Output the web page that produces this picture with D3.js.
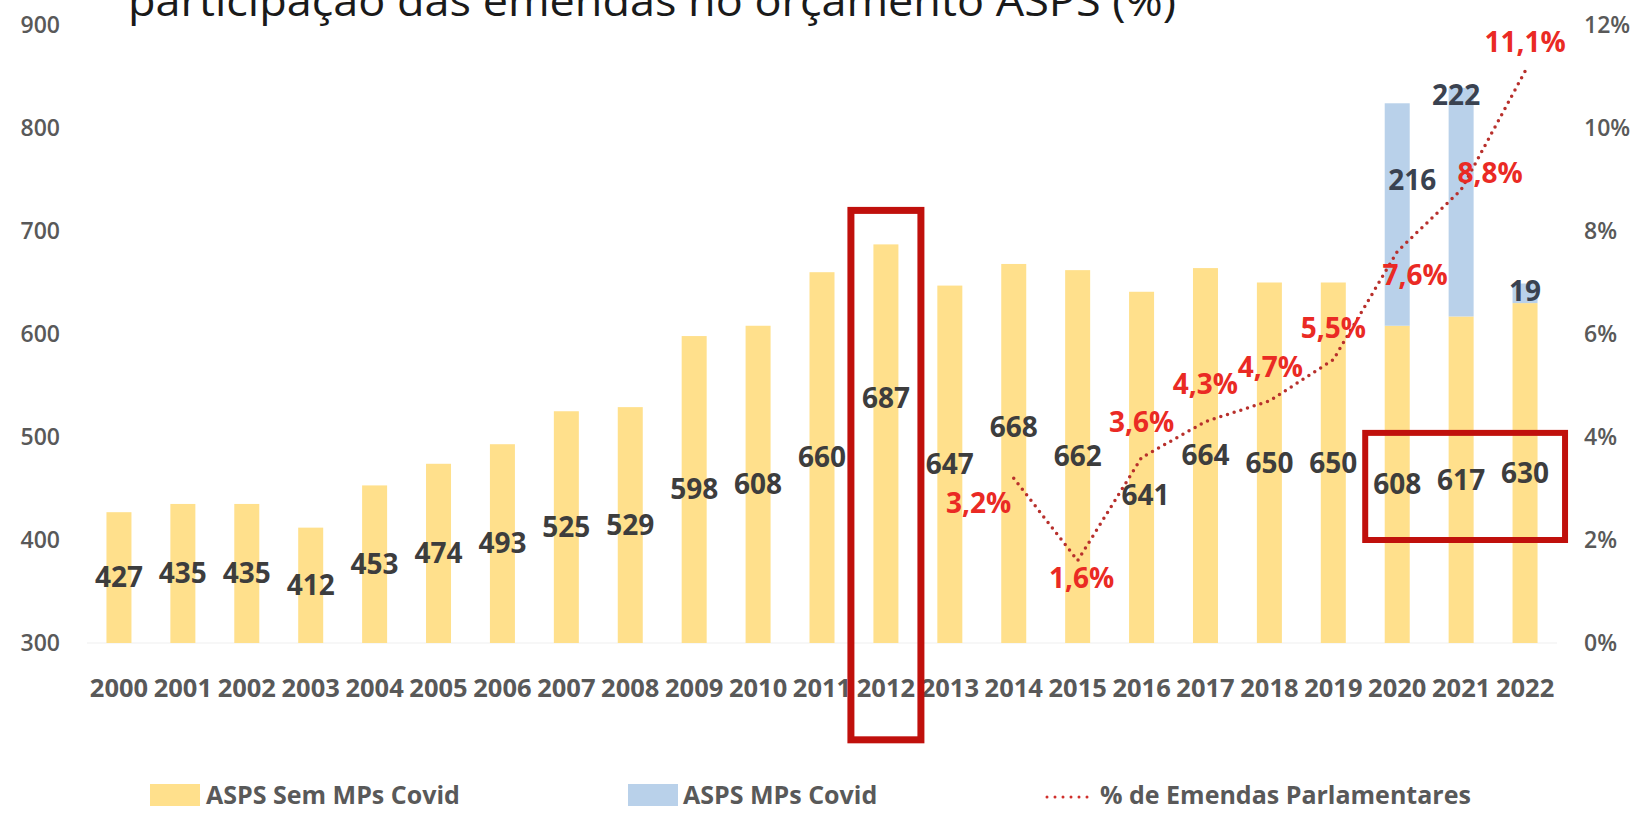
<!DOCTYPE html>
<html>
<head>
<meta charset="utf-8">
<script src="https://cdn.jsdelivr.net/npm/d3@7"></script>
<style>
	body { margin: 0; background: #ffffff; overflow: hidden; }
	#canvas { width: 1640px; height: 814px; }
	svg { display: block; }
	text { font-family: "Open Sans", "DejaVu Sans", sans-serif; }
</style>
</head>
<body>
<div id="canvas"></div>
<script>
// chart values
var years = ["2000","2001","2002","2003","2004","2005","2006","2007","2008","2009","2010","2011",
	"2012","2013","2014","2015","2016","2017","2018","2019","2020","2021","2022"];
var semCovid = [427,435,435,412,453,474,493,525,529,598,608,660,687,647,668,662,641,664,650,650,608,617,630];
var mpsCovid = [0,0,0,0,0,0,0,0,0,0,0,0,0,0,0,0,0,0,0,0,216,222,19];
var emendasYears = ["2014","2015","2016","2017","2018","2019","2020","2021","2022"];
var emendasPct = [3.2,1.6,3.6,4.3,4.7,5.5,7.6,8.8,11.1];
var leftTicks = [300,400,500,600,700,800,900];
var rightTicks = [0,2,4,6,8,10,12];

// label nudges (pixels), like the hand-moved labels of the original
var valueNudge = {"2012": [0,-45], "2014": [0,-26], "2016": [4,28]};
var covidNudge = {"2020": [15,0], "2021": [-5,0], "2022": [0,0]};
var pctNudge = [[-35,25],[4,18],[0,-35],[0,-37],[1,-34],[0,-32],[18,24],[29,-17],[0,-29]];

var W = 1640, H = 814;
var YELLOW = "#ffe08c", BLUE = "#b9d1ea", RED = "#ea2a24", BOX = "#c0100c";

var svg = d3.select("#canvas")
	.append("svg")
	.attr("width", W)
	.attr("height", H);

var x = d3.scaleBand()
	.domain(years)
	.range([87, 1557]);

var y = d3.scaleLinear()
	.domain([300, 900])
	.range([643, 25]);

var y2 = d3.scaleLinear()
	.domain([0, 12])
	.range([643, 25]);

var barW = 25;
function cx(yr){ return x(yr) + x.bandwidth()/2; }

// title (cut off at the top in the original)
svg.append("text")
	.attr("x", 128)
	.attr("y", 16)
	.attr("font-size", 42)
	.attr("fill", "#1a1a1a")
	.attr("textLength", 1048)
	.attr("lengthAdjust", "spacingAndGlyphs")
	.text("participação das emendas no orçamento ASPS (%)");

// axes
var leftAxis = svg.append("g")
	.attr("transform", "translate(60,0)")
	.call(d3.axisLeft(y).tickValues(leftTicks).tickSize(0).tickPadding(0));
var rightAxis = svg.append("g")
	.attr("transform", "translate(1584,0)")
	.call(d3.axisRight(y2).tickValues(rightTicks).tickSize(0).tickPadding(0)
		.tickFormat(function(d){ return d + "%"; }));
[leftAxis, rightAxis].forEach(function(a){
	a.select(".domain").remove();
	a.selectAll("text")
		.attr("font-size", 23)
		.attr("font-weight", 600)
		.attr("font-family", "'Open Sans', sans-serif")
		.attr("fill", "#595959");
});

// baseline
svg.append("line")
	.attr("x1", 87).attr("x2", 1557)
	.attr("y1", y(300)).attr("y2", y(300))
	.attr("stroke", "#efefef")
	.attr("stroke-width", 1);

// year labels
var xAxis = svg.append("g")
	.attr("transform", "translate(0," + (y(300) + 45) + ")")
	.call(d3.axisBottom(x).tickSize(0).tickPadding(0));
xAxis.select(".domain").remove();
xAxis.selectAll("text")
	.attr("font-size", 25.5)
	.attr("font-weight", 700)
	.attr("font-family", "'Open Sans', sans-serif")
	.attr("fill", "#595959")
	.attr("dy", "0.35em");

// bars
var bars = svg.selectAll(".yr")
	.data(years)
	.enter()
	.append("g")
	.attr("class", "yr")
	.each(function(yr, i){
		var g = d3.select(this);
		g.append("rect")
			.attr("x", cx(yr) - barW/2)
			.attr("y", y(semCovid[i]))
			.attr("width", barW)
			.attr("height", y(300) - y(semCovid[i]))
			.attr("fill", YELLOW);
		if(mpsCovid[i] > 0){
			g.append("rect")
				.attr("x", cx(yr) - barW/2)
				.attr("y", y(semCovid[i] + mpsCovid[i]))
				.attr("width", barW)
				.attr("height", y(semCovid[i]) - y(semCovid[i] + mpsCovid[i]))
				.attr("fill", BLUE);
		}
	});

// value labels
bars.each(function(yr, i){
	var g = d3.select(this);
	var n = valueNudge[yr] || [0,0];
	g.append("text")
		.attr("x", cx(yr) + n[0])
		.attr("y", (y(semCovid[i]) + y(300))/2 + n[1])
		.attr("dy", "0.35em")
		.attr("text-anchor", "middle")
		.attr("font-size", 28)
		.attr("font-weight", 700)
		.attr("fill", "#3d3d3d")
		.text(semCovid[i]);
	if(mpsCovid[i] > 0){
		var c = covidNudge[yr];
		var top = y(semCovid[i] + mpsCovid[i]);
		var ly = yr === "2020" ? (top + y(semCovid[i]))/2 - 34
			: yr === "2021" ? top + 7
			: (top + y(semCovid[i]))/2 - 2;
		g.append("text")
			.attr("x", cx(yr) + c[0])
			.attr("y", ly)
			.attr("dy", "0.35em")
			.attr("text-anchor", "middle")
			.attr("font-size", 28)
			.attr("font-weight", 700)
			.attr("fill", "#3a4250")
			.text(mpsCovid[i]);
	}
});

// % emendas line
var line = d3.line()
	.x(function(d, i){ return cx(emendasYears[i]); })
	.y(function(d){ return y2(d); });

svg.append("path")
	.datum(emendasPct)
	.attr("d", line)
	.attr("fill", "none")
	.attr("stroke", "#b8302c")
	.attr("stroke-width", 3.5)
	.attr("stroke-linecap", "round")
	.attr("stroke-dasharray", "0,7");

svg.selectAll(".pct")
	.data(emendasPct)
	.enter()
	.append("text")
	.attr("class", "pct")
	.attr("x", function(d, i){ return cx(emendasYears[i]) + pctNudge[i][0]; })
	.attr("y", function(d, i){ return y2(d) + pctNudge[i][1]; })
	.attr("dy", "0.35em")
	.attr("text-anchor", "middle")
	.attr("font-size", 28)
	.attr("font-weight", 700)
	.attr("fill", RED)
	.text(function(d){ return d.toFixed(1).replace(".", ",") + "%"; });

// highlight boxes
svg.append("rect")
	.attr("x", cx("2012") - 35)
	.attr("y", y(720))
	.attr("width", 70)
	.attr("height", y(206) - y(720))
	.attr("fill", "none")
	.attr("stroke", BOX)
	.attr("stroke-width", 7);

svg.append("rect")
	.attr("x", cx("2020") - 32)
	.attr("y", y(504))
	.attr("width", cx("2022") - cx("2020") + 72)
	.attr("height", y(400) - y(504))
	.attr("fill", "none")
	.attr("stroke", BOX)
	.attr("stroke-width", 6);

// legend
var legend = svg.append("g").attr("class", "legend");
var ly = 795;
legend.append("rect").attr("x", 150).attr("y", ly - 11).attr("width", 50).attr("height", 22).attr("fill", YELLOW);
legend.append("text").attr("x", 206).attr("y", ly).attr("dy", "0.35em")
	.attr("font-size", 25).attr("font-weight", 700).attr("fill", "#595959")
	.text("ASPS Sem MPs Covid");
legend.append("rect").attr("x", 628).attr("y", ly - 11).attr("width", 50).attr("height", 22).attr("fill", BLUE);
legend.append("text").attr("x", 683).attr("y", ly).attr("dy", "0.35em")
	.attr("font-size", 25).attr("font-weight", 700).attr("fill", "#595959")
	.text("ASPS MPs Covid");
legend.append("line")
	.attr("x1", 1047).attr("x2", 1095)
	.attr("y1", ly + 2).attr("y2", ly + 2)
	.attr("stroke", "#d0302c")
	.attr("stroke-width", 3)
	.attr("stroke-linecap", "round")
	.attr("stroke-dasharray", "0,8");
legend.append("text").attr("x", 1100).attr("y", ly).attr("dy", "0.35em")
	.attr("font-size", 25).attr("font-weight", 700).attr("fill", "#595959")
	.text("% de Emendas Parlamentares");
</script>
</body>
</html>
